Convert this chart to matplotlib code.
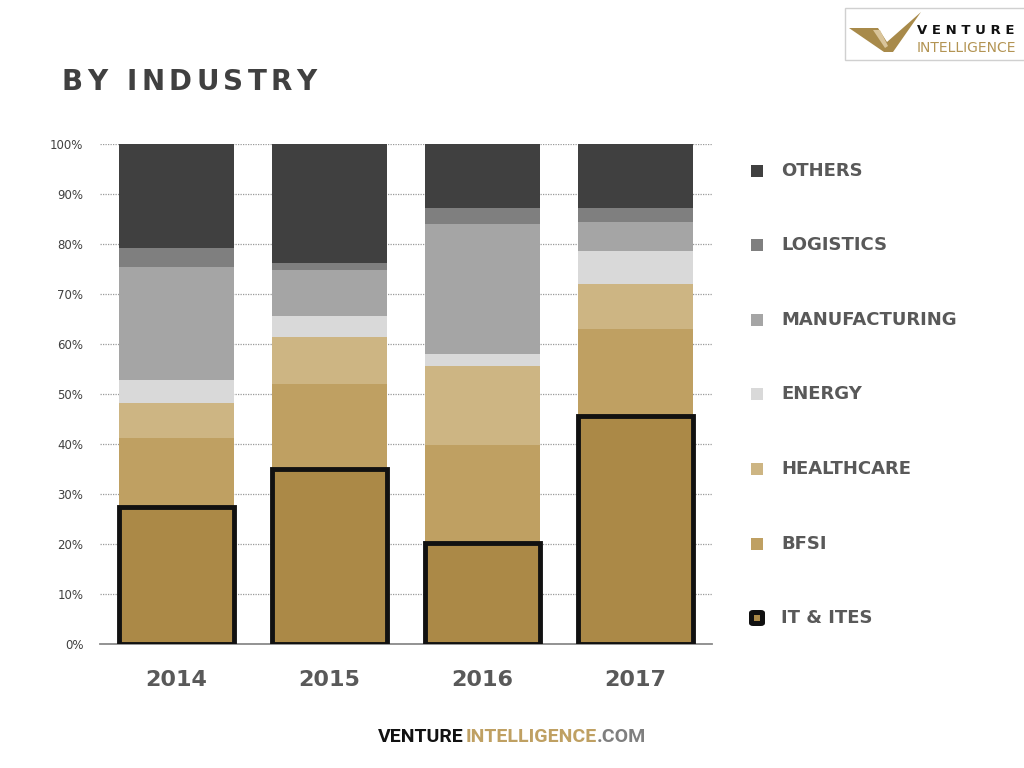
import matplotlib.pyplot as plt
from matplotlib.patches import Rectangle, Polygon, FancyBboxPatch
import numpy as np

years = ['2014', '2015', '2016', '2017']
industries = ['IT & ITES', 'BFSI', 'HEALTHCARE', 'ENERGY', 'MANUFACTURING', 'LOGISTICS', 'OTHERS']
it_ites = [27.4, 35.0, 20.2, 45.6]
bfsi = [13.8, 17.0, 19.6, 17.4]
healthcare = [7.0, 9.4, 15.8, 9.0]
energy = [4.6, 4.2, 2.4, 6.6]
manufacturing = [22.6, 9.2, 26.0, 5.8]
logistics = [3.8, 1.4, 3.2, 2.8]
others = [20.8, 23.8, 12.8, 12.8]

series = [it_ites, bfsi, healthcare, energy, manufacturing, logistics, others]
colors = ['#ab8947', '#bfa062', '#cdb583', '#d9d9d9', '#a5a5a5', '#7f7f7f', '#404040']

W, H = 1024, 768


def px(x, y):
    return (x / W, 1 - y / H)


fig = plt.figure(figsize=(10.24, 7.68), dpi=100)
ax = fig.add_axes([100 / W, 1 - 644 / H, 612 / W, 500 / H])

x = np.arange(len(years))
bottom = np.zeros(len(years))
for i, (vals, c) in enumerate(zip(series, colors)):
    if i == 0:
        ax.bar(x, vals, width=0.75, bottom=bottom, color=c, edgecolor='#111111',
               linewidth=3.5, zorder=4)
    else:
        ax.bar(x, vals, width=0.75, bottom=bottom, color=c, linewidth=0, zorder=3)
    bottom += np.array(vals)

ax.set_xlim(-0.5, 3.5)
ax.set_ylim(0, 100)
ax.set_yticks(range(0, 101, 10))
ax.set_yticklabels([f'{v}%' for v in range(0, 101, 10)], fontsize=8.5, color='#404040')
ax.set_xticks(x)
ax.set_xticklabels(years, fontsize=16, fontweight='bold', color='#595959')
ax.tick_params(axis='both', length=0)
ax.tick_params(axis='x', pad=19)
ax.tick_params(axis='y', pad=12)
ax.yaxis.grid(True, linestyle=(0, (1, 1)), color='#9a9a9a', linewidth=0.9, zorder=0)
ax.set_axisbelow(True)
for s in ['top', 'right', 'left']:
    ax.spines[s].set_visible(False)
ax.spines['bottom'].set_color('#8a8a8a')
ax.spines['bottom'].set_linewidth(1.3)

# title with wide letter spacing
prev = fig.text(*px(62, 82), 'B', fontsize=20, fontweight='bold', color='#404040',
                va='center', ha='left')
for ch in 'Y INDUSTRY':
    prev = fig.add_artist(plt.Annotation(ch, xy=(1, 0.5), xycoords=prev, xytext=(3.2, 0),
                                         textcoords='offset points', fontsize=20,
                                         fontweight='bold', color='#404040',
                                         va='center', ha='left'))

# legend (top to bottom)
leg_y = [171, 245, 320, 394, 469, 544, 618]
for name, c, yy in zip(industries[::-1], colors[::-1], leg_y):
    if name == 'IT & ITES':
        fig.patches.append(FancyBboxPatch(px(749, yy + 8), 16 / W, 16 / H,
                                          boxstyle='round,pad=0,rounding_size=0.004',
                                          transform=fig.transFigure, facecolor='#111111',
                                          edgecolor='none'))
        fig.patches.append(Rectangle(px(754, yy + 3), 6 / W, 6 / H, transform=fig.transFigure,
                                     facecolor=colors[0], edgecolor='none'))
    else:
        fig.patches.append(Rectangle(px(751, yy + 6), 12 / W, 12 / H, transform=fig.transFigure,
                                     facecolor=c, edgecolor='none'))
    fig.text(*px(781, yy), name, fontsize=13, fontweight='bold', color='#595959',
             va='center', ha='left')

# top-right logo
fig.patches.append(Rectangle(px(845, 60), 180 / W, 52 / H, transform=fig.transFigure,
                             facecolor='white', edgecolor='#d0d0d0', linewidth=1))
check = [px(849, 28), px(878, 28), px(887, 42), px(921, 12), px(893, 52), px(884, 52)]
fig.patches.append(Polygon(check, closed=True, transform=fig.transFigure,
                           facecolor='#a88a4a', edgecolor='none'))
inner = [px(873, 30), px(880, 30), px(888, 46), px(885, 48)]
fig.patches.append(Polygon(inner, closed=True, transform=fig.transFigure,
                           facecolor='#d9c49a', edgecolor='none'))
fig.text(*px(917, 31), 'V E N T U R E', fontsize=9.5, fontweight='bold', color='#111111',
         va='center', ha='left')
fig.text(*px(917, 48), 'INTELLIGENCE', fontsize=10, color='#b39453', va='center', ha='left')

# bottom brand
brand_font = ['Roboto', 'DejaVu Sans']
t1 = fig.text(*px(378, 742), 'VENTURE', fontsize=14, fontweight='bold', color='#111111',
              family=brand_font, va='baseline', ha='left')
a2 = fig.add_artist(plt.Annotation('INTELLIGENCE', xy=(1, 0), xycoords=t1, xytext=(1.5, 0),
                                   textcoords='offset points', fontsize=14, fontweight='bold',
                                   family=brand_font, color='#bfa062', va='bottom', ha='left'))
fig.add_artist(plt.Annotation('.COM', xy=(1, 0), xycoords=a2, fontsize=14, fontweight='bold',
                              family=brand_font, color='#7f7f7f', va='bottom', ha='left'))

fig.savefig('out.png', dpi=100, facecolor='white')
